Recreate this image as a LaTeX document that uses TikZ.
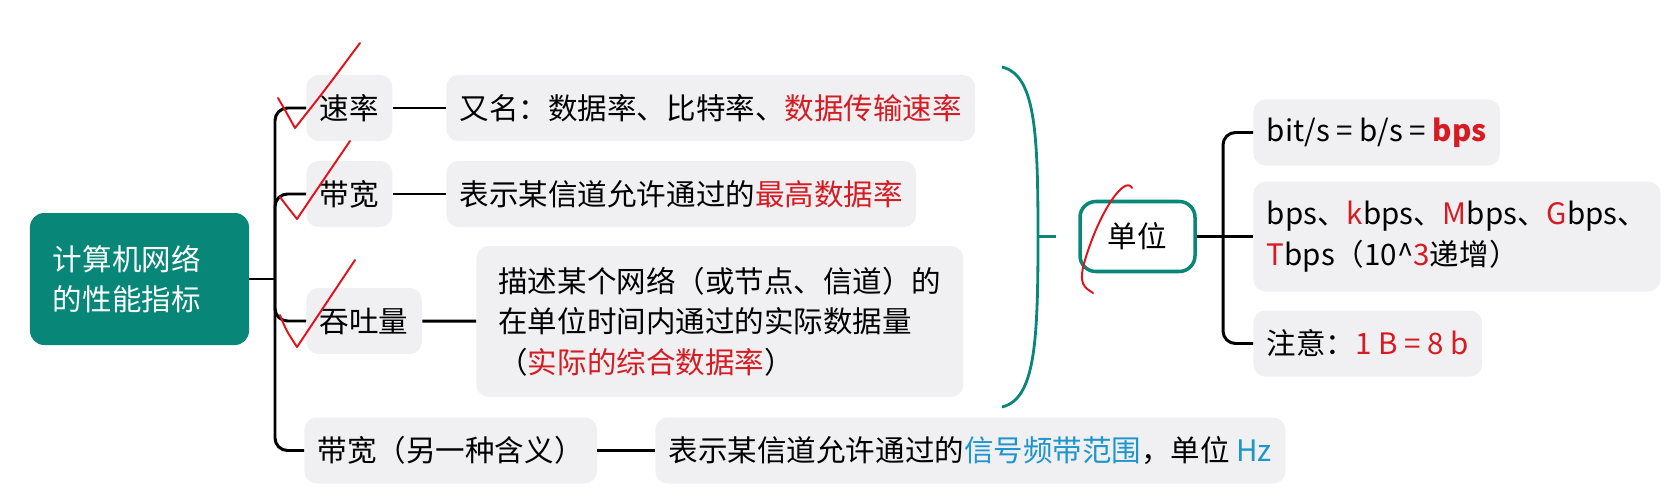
\documentclass[tikz,border=0pt]{standalone}
\usepackage{fontspec}
\setmainfont{Noto Sans CJK SC}
\usepackage{tikz}
\usetikzlibrary{positioning}

\definecolor{mapteal}{RGB}{8,135,120}
\definecolor{mapred}{RGB}{212,28,34}
\definecolor{mapblue}{RGB}{28,150,204}
\definecolor{boxgray}{RGB}{240,239,242}
\definecolor{penred}{RGB}{228,16,26}

\begin{document}
\begin{tikzpicture}[
    every node/.style={font=\fontsize{16.8pt}{23pt}\selectfont},
    root/.style={fill=mapteal, text=white, rounded corners=8pt, minimum width=4.38cm, minimum height=2.64cm, text width=3.46cm, align=left},
    item/.style={fill=boxgray, rounded corners=7pt, minimum height=1.32cm, inner xsep=0.27cm, anchor=west},
    unitbox/.style={draw=mapteal, line width=2pt, fill=white, rounded corners=9pt, minimum width=2.3cm, minimum height=1.4cm},
    conn/.style={line width=1.7pt, rounded corners=0.25cm},
    brace/.style={draw=mapteal, line width=1.6pt},
    pen/.style={draw=penred, line width=1.1pt, line cap=round, line join=round},
]
\useasboundingbox (0,0) rectangle (33.48,-9.96);

% Root
\node[root] (perf) at (2.79,-5.58) {计算机网络\\的性能指标};
\coordinate (trunk) at (5.5,-5.58);

% Left branches
\node[item] (rate) at (6.12,-2.16) {速率};
\node[item] (rateinfo) at (8.92,-2.16) {又名：数据率、比特率、\textcolor{mapred}{数据传输速率}};
\node[item] (bw) at (6.12,-3.88) {带宽};
\node[item] (bwinfo) at (8.92,-3.88) {表示某信道允许通过的\textcolor{mapred}{最高数据率}};
\node[item] (thr) at (6.12,-6.42) {吞吐量};
\node[item, minimum width=9.74cm, minimum height=3.02cm, align=left] (thrinfo) at (9.52,-6.43)
    {描述某个网络（或节点、信道）的\\在单位时间内通过的实际数据量\\（\textcolor{mapred}{实际的综合数据率}）};
\node[item] (bwtwo) at (6.08,-9.01) {带宽（另一种含义）};
\node[item] (bwtwoinfo) at (13.1,-9.01) {表示某信道允许通过的\textcolor{mapblue}{信号频带范围}，单位 \textcolor{mapblue}{Hz}};

% Connectors
\draw[conn] (perf.east) -- (trunk);
\draw[conn] (rate.west) -| (trunk);
\draw[conn] (bw.west) -| (trunk);
\draw[conn] (thr.west) -| (trunk);
\draw[conn] (bwtwo.west) -| (trunk);
\draw[conn] (rate) -- (rateinfo);
\draw[conn] (bw) -- (bwinfo);
\draw[conn] (thr) -- (thrinfo);
\draw[conn] (bwtwo) -- (bwtwoinfo);

% Brace
\draw[brace] (20.04,-1.34) .. controls (20.7,-1.5) and (20.76,-2.6) .. (20.76,-4.73)
    .. controls (20.76,-6.86) and (20.7,-7.98) .. (20.04,-8.14);
\coordinate (bracemid) at (20.76,-4.73);
\coordinate (braceend) at (21.12,-4.73);
\draw[brace] (bracemid) -- (braceend);

% Units
\node[unitbox] (unit) at (22.75,-4.73) {单位};
\coordinate (rtrunk) at (24.46,-4.73);
\node[item] (unitone) at (25.06,-2.65) {bit/s = b/s = \textcolor{mapred}{\textbf{bps}}};
\node[item, minimum width=8cm, minimum height=2.2cm, align=left] (unittwo) at (25.06,-4.73)
    {bps、\textcolor{mapred}{k}bps、\textcolor{mapred}{M}bps、\textcolor{mapred}{G}bps、\\\textcolor{mapred}{T}bps（10\textasciicircum\textcolor{mapred}{3}递增）};
\node[item] (unitthree) at (25.06,-6.87) {注意：\textcolor{mapred}{1 B = 8 b}};
\draw[conn] (unit.east) -- (rtrunk);
\draw[conn] (unitone.west) -| (rtrunk);
\draw[conn] (unittwo.west) -- (rtrunk);
\draw[conn] (unitthree.west) -| (rtrunk);

% Hand marks
\draw[pen] (5.56,-1.96) .. controls (5.7,-2.2) .. (5.9,-2.56) .. controls (6.5,-1.8) .. (7.2,-0.86);
\draw[pen] (5.6,-3.94) .. controls (5.72,-4.1) .. (5.94,-4.38) .. controls (6.4,-3.7) .. (7.0,-2.82);
\draw[pen] (5.6,-6.3) .. controls (5.72,-6.6) .. (5.94,-6.94) .. controls (6.5,-6.1) .. (7.1,-5.2);
\draw[pen] (22.64,-3.76) .. controls (22.5,-3.5) and (22.0,-4.2) .. (21.7,-5.2)
    .. controls (21.55,-5.7) and (21.7,-5.75) .. (21.86,-5.86);
\end{tikzpicture}
\end{document}
